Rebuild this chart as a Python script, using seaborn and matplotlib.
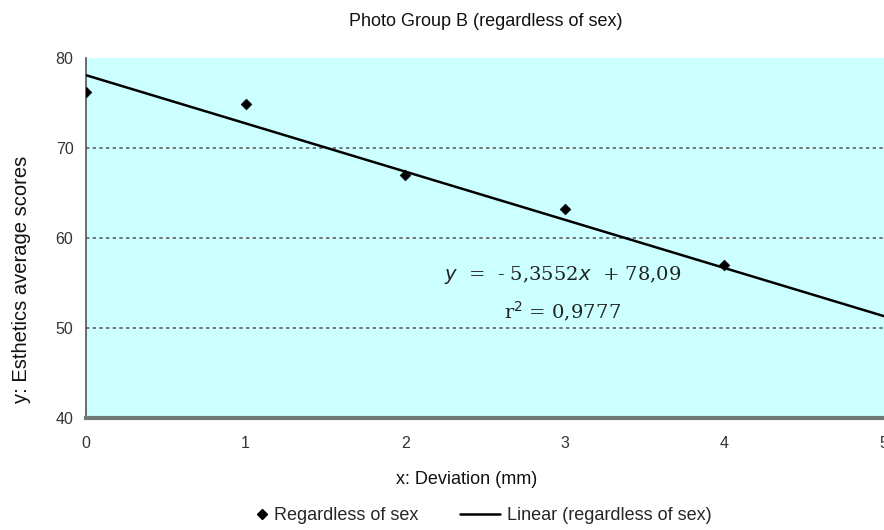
import numpy as np
import pandas as pd
import matplotlib
matplotlib.use('Agg')
import matplotlib.pyplot as plt
import seaborn as sns
from matplotlib.lines import Line2D

# data
deviation = [0, 1, 2, 3, 4]
scores = [76.2, 74.9, 67.0, 63.2, 57.0]
# published trendline
slope = -5.3552
intercept = 78.09
r2 = 0.9777
trend_x = np.array([0, 5])

sns.set_theme(style='white')
plt.rcParams['font.family'] = ['Liberation Sans', 'DejaVu Sans']

df = pd.DataFrame({'x': deviation, 'y': scores})
tr = pd.DataFrame({'x': trend_x, 'y': intercept + slope * trend_x})

fig = plt.figure(figsize=(8.84, 5.30), dpi=100)
ax = fig.add_axes([86 / 884, 1 - 418 / 530, 1 - 86 / 884, (418 - 58) / 530])
ax.set_facecolor('#ccffff')

for yv in [50, 60, 70]:
    ax.axhline(yv, color='#606060', lw=1.2, ls=(0, (2, 2)), zorder=1)

sns.lineplot(data=tr, x='x', y='y', color='black', lw=1.8, ax=ax, zorder=3)
sns.scatterplot(data=df, x='x', y='y', marker='D', s=30, color='black',
                edgecolor='black', ax=ax, zorder=4)

ax.set_xlim(0, (884 - 86) / 160.5)
ax.set_ylim(40, 80)
ax.set_xticks([0, 1, 2, 3, 4, 5])
ax.set_yticks([40, 50, 60, 70, 80])
ax.tick_params(axis='both', labelsize=11.5, colors='#333333', length=4,
               width=1, direction='out', pad=5)
ax.tick_params(axis='x', pad=9)
for s in ['top', 'right']:
    ax.spines[s].set_visible(False)
ax.spines['left'].set_color('#555555')
ax.spines['left'].set_linewidth(1.2)
ax.spines['bottom'].set_color('#707878')
ax.spines['bottom'].set_linewidth(3)
ax.set_xlabel('')
ax.set_ylabel('')

fig.text(486 / 884, 1 - 22 / 530, 'Photo Group B (regardless of sex)',
         ha='center', va='center', fontsize=13, color='#111111')
fig.text(467 / 884, 1 - 479 / 530, 'x: Deviation (mm)',
         ha='center', va='center', fontsize=13, color='#111111')
fig.text(22 / 884, 1 - 279 / 530, 'y: Esthetics average scores',
         ha='center', va='center', rotation=90, fontsize=14.5, color='#111111')

eq = r'$y$  =  - %s$x$  + %s' % (str(abs(slope)).replace('.', ','),
                                  str(intercept).replace('.', ','))
fig.text(563 / 884, 1 - 275 / 530, eq,
         ha='center', va='center', fontsize=14, color='#222222', family='DejaVu Serif')
fig.text(563 / 884, 1 - 312 / 530, r'r$^2$ = ' + str(r2).replace('.', ','),
         ha='center', va='center', fontsize=14, color='#222222', family='DejaVu Serif')

# legend below the chart, two pieces so the marker sits close to its text
fig.legend([Line2D([], [], marker='D', ls='none', color='black', markersize=5)],
           ['Regardless of sex'], loc='center left',
           bbox_to_anchor=(240 / 884, 1 - 516 / 530), frameon=False,
           fontsize=13, handlelength=0.6, handletextpad=0.4)
fig.legend([Line2D([], [], color='black', lw=1.8)],
           ['Linear (regardless of sex)'], loc='center left',
           bbox_to_anchor=(444 / 884, 1 - 516 / 530), frameon=False,
           fontsize=13, handlelength=2.2, handletextpad=0.4)

fig.savefig('out.png', dpi=100)
